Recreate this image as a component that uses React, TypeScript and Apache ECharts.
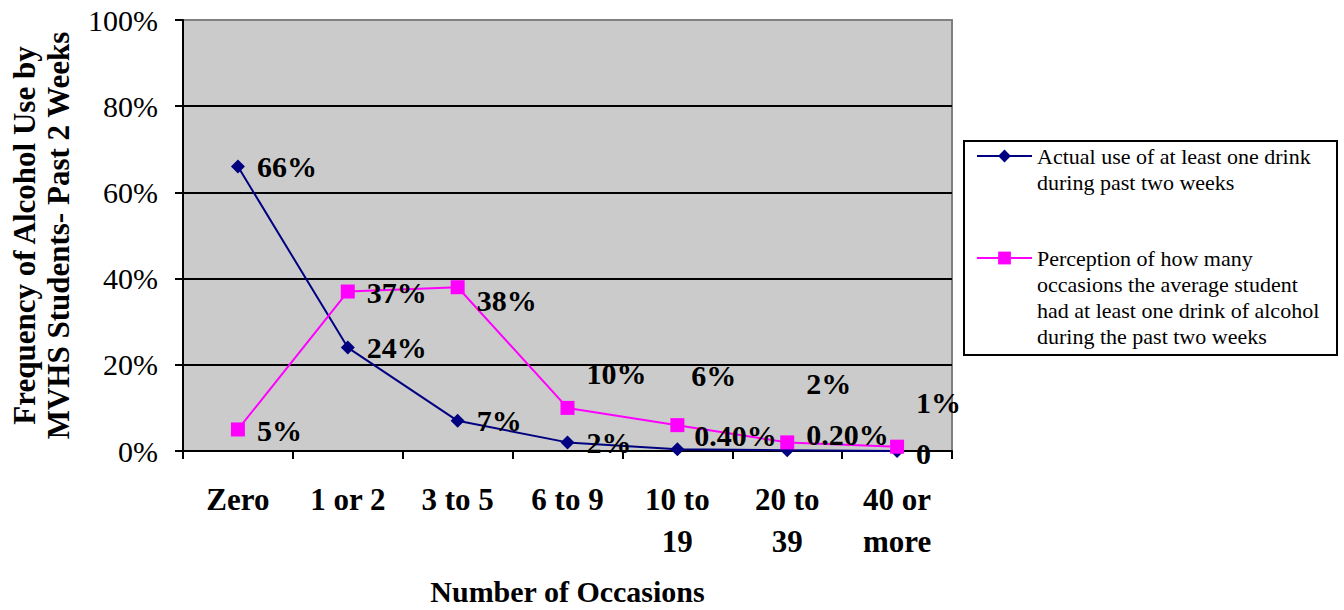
import React, { useEffect, useRef } from 'react';
import * as echarts from 'echarts';

const categories = ['Zero', '1 or 2', '3 to 5', '6 to 9', '10 to\n19', '20 to\n39', '40 or\nmore'];
const actualName = 'Actual use of at least one drink during past two weeks';
const perceptionName = 'Perception of how many occasions the average student had at least one drink of alcohol during the past two weeks';
const actualLegendLines = ['Actual use of at least one drink', 'during past two weeks'];
const perceptionLegendLines = [
  'Perception of how many',
  'occasions the average student',
  'had at least one drink of alcohol',
  'during the past two weeks',
];
const actualValues = [66, 24, 7, 2, 0.4, 0.2, 0];
const actualLabels = ['66%', '24%', '7%', '2%', '0.40%', '0.20%', '0'];
const perceptionValues = [5, 37, 38, 10, 6, 2, 1];
const perceptionLabels = ['5%', '37%', '38%', '10%', '6%', '2%', '1%'];

// label placement tweaks (styles, not data)
const actualLabelOffsets = [[0, 0], [0, 0], [0, 0], [0, 0], [-2, -14], [0, -16], [0, 2]];
const perceptionLabelOffsets = [[0, 1], [0, 1], [0, 13], [0, -34], [-5, -50], [0, -59], [0, -44]];

const FONT = '"Liberation Serif", "Times New Roman", serif';

// lines are centred on the legend icon; pad with empty lines on top so the first line sits at the icon
const legendText = (lines: string[]) => '\n'.repeat(lines.length - 1) + lines.join('\n');

export default function App() {
  const ref = useRef<HTMLDivElement>(null);
  useEffect(() => {
    if (!ref.current) return;
    const chart = echarts.init(ref.current, undefined, { renderer: 'svg' });
    const labelBase = {
      show: true,
      position: 'right' as const,
      distance: 12,
      fontFamily: FONT,
      fontSize: 30,
      fontWeight: 'bold' as const,
      color: '#000',
    };
    const legendBase = {
      orient: 'vertical',
      padding: 0,
      itemWidth: 55,
      itemHeight: 16,
      selectedMode: false,
      left: 976,
      textStyle: { fontFamily: FONT, fontSize: 22, lineHeight: 26, color: '#000' },
    };
    chart.setOption({
      animation: false,
      backgroundColor: '#fff',
      textStyle: { fontFamily: FONT },
      grid: {
        left: 183,
        right: 392,
        top: 20,
        bottom: 159,
        containLabel: false,
        outerBoundsMode: 'none',
        show: true,
        backgroundColor: '#CBCBCB',
        borderColor: '#808080',
        borderWidth: 2,
      },
      xAxis: {
        type: 'category',
        data: categories,
        boundaryGap: true,
        name: 'Number of Occasions',
        nameLocation: 'middle',
        nameGap: 128,
        nameTextStyle: { fontFamily: FONT, fontSize: 30, fontWeight: 'bold', lineHeight: 25, color: '#000' },
        axisLine: { lineStyle: { color: '#000', width: 2 } },
        axisTick: { show: true, length: 8, lineStyle: { color: '#000', width: 2 } },
        axisLabel: {
          interval: 0,
          margin: 27,
          fontFamily: FONT,
          fontSize: 31,
          fontWeight: 'bold',
          lineHeight: 42,
          color: '#000',
        },
        splitLine: { show: false },
      },
      yAxis: {
        type: 'value',
        min: 0,
        max: 100,
        interval: 20,
        name: 'Frequency of Alcohol Use by\nMVHS Students- Past 2 Weeks',
        nameLocation: 'middle',
        nameRotate: 90,
        nameGap: 108,
        nameTextStyle: { fontFamily: FONT, fontSize: 31, fontWeight: 'bold', lineHeight: 34, color: '#000' },
        axisLine: { show: true, lineStyle: { color: '#000', width: 2 } },
        axisTick: { show: true, length: 8, lineStyle: { color: '#000', width: 2 } },
        axisLabel: {
          formatter: '{value}%',
          margin: 25,
          fontFamily: FONT,
          fontSize: 30,
          color: '#000',
        },
        splitLine: {
          show: true,
          lineStyle: { color: ['#000', '#000', '#000', '#000', '#000', '#808080'], width: 2 },
        },
      },
      legend: [
        {
          ...legendBase,
          data: [actualName],
          top: 117,
          formatter: () => legendText(actualLegendLines),
        },
        {
          ...legendBase,
          data: [perceptionName],
          top: 167,
          formatter: () => legendText(perceptionLegendLines),
        },
      ],
      graphic: [
        {
          type: 'rect',
          shape: { x: 964, y: 141, width: 373, height: 214 },
          style: { fill: 'none', stroke: '#000', lineWidth: 2 },
          z: 10,
        },
      ],
      series: [
        {
          name: actualName,
          type: 'line',
          symbol: 'diamond',
          symbolSize: 14,
          lineStyle: { color: '#000080', width: 2 },
          itemStyle: { color: '#000080', borderWidth: 0 },
          data: actualValues.map((v, i) => ({
            value: v,
            label: { ...labelBase, offset: actualLabelOffsets[i], formatter: () => actualLabels[i] },
          })),
        },
        {
          name: perceptionName,
          type: 'line',
          symbol: 'rect',
          symbolSize: 14,
          lineStyle: { color: '#FF00FF', width: 2 },
          itemStyle: { color: '#FF00FF', borderWidth: 0 },
          data: perceptionValues.map((v, i) => ({
            value: v,
            label: { ...labelBase, offset: perceptionLabelOffsets[i], formatter: () => perceptionLabels[i] },
          })),
        },
      ],
    });
    return () => chart.dispose();
  }, []);
  return (
    <div
      ref={ref}
      style={{ position: 'fixed', left: 0, top: 0, width: 1344, height: 610, background: '#fff' }}
    />
  );
}
